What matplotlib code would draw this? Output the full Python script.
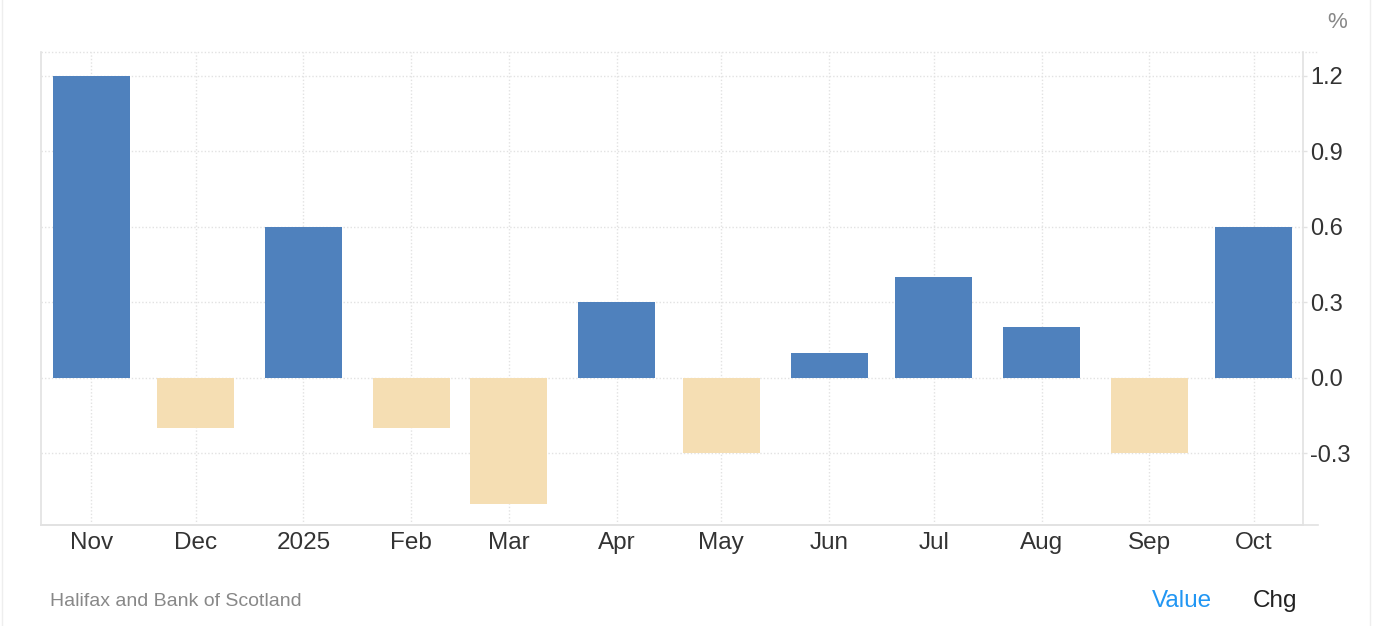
import numpy as np
import matplotlib.pyplot as plt
from matplotlib.lines import Line2D

# data: monthly house price change (%)
months = ['Nov', 'Dec', '2025', 'Feb', 'Mar', 'Apr', 'May', 'Jun', 'Jul', 'Aug', 'Sep', 'Oct']
days = [0, 30, 61, 92, 120, 151, 181, 212, 242, 273, 304, 334]  # days since 2024-11-01
values = [1.2, -0.2, 0.6, -0.2, -0.5, 0.3, -0.3, 0.1, 0.4, 0.2, -0.3, 0.6]
yticks = [-0.3, 0.0, 0.3, 0.6, 0.9, 1.2]

BLUE = '#4f81bd'
TAN = '#f5deb3'
GRID = '#e2e2e2'

plt.rcParams['font.family'] = ['Liberation Sans', 'DejaVu Sans']

W, H = 1378, 626
fig = plt.figure(figsize=(W / 100, H / 100), dpi=100)
ax = fig.add_axes([41 / W, 1 - 525 / H, (1303 - 41) / W, (525 - 52) / H])

colors = [BLUE if v >= 0 else TAN for v in values]
ax.bar(days, values, width=22.1, color=colors, zorder=3)

ax.set_xlim(-14.4, 348.1)
ax.set_ylim(-0.585, 1.295)

ax.set_xticks(days)
ax.set_xticklabels(months)
ax.set_yticks(yticks)
ax.set_yticklabels([f'{t:.1f}' for t in yticks])
ax.yaxis.tick_right()
ax.tick_params(axis='x', length=0, pad=5, labelsize=17.5, labelcolor='#333333')
ax.tick_params(axis='y', length=3, width=1, color=GRID, pad=2, labelsize=17,
               labelcolor='#333333')

ax.grid(True, linestyle=(0, (1, 1.5)), color=GRID, linewidth=1, zorder=0)

ax.spines['top'].set_visible(False)
for side in ['left', 'right', 'bottom']:
    ax.spines[side].set_color(GRID)
    ax.spines[side].set_linewidth(1.2)

# top dotted border and bottom axis line extending past the right spine
ext = 15 / (1303 - 41)
ax.plot([0, 1 + ext], [1, 1], transform=ax.transAxes, clip_on=False,
        color=GRID, lw=1, linestyle=(0, (1, 1.5)))
ax.plot([0, 1 + ext], [0, 0], transform=ax.transAxes, clip_on=False,
        color=GRID, lw=1.2)

fig.text(1337 / W, 1 - 22 / H, '%', fontsize=16, color='#888888', ha='center', va='center')
fig.text(50 / W, 1 - 601 / H, 'Halifax and Bank of Scotland', fontsize=14,
         color='#888888', ha='left', va='center')
fig.text(1182 / W, 1 - 601 / H, 'Value', fontsize=17.5, color='#2196f3',
         ha='center', va='center')
fig.text(1275 / W, 1 - 601 / H, 'Chg', fontsize=17.5, color='#222222',
         ha='center', va='center')

# card borders
fig.add_artist(Line2D([2 / W, 2 / W], [0, 1], color='#eeeeee', lw=1))
fig.add_artist(Line2D([1370 / W, 1370 / W], [0, 1], color='#eeeeee', lw=1))

fig.savefig('out.png', dpi=100)
